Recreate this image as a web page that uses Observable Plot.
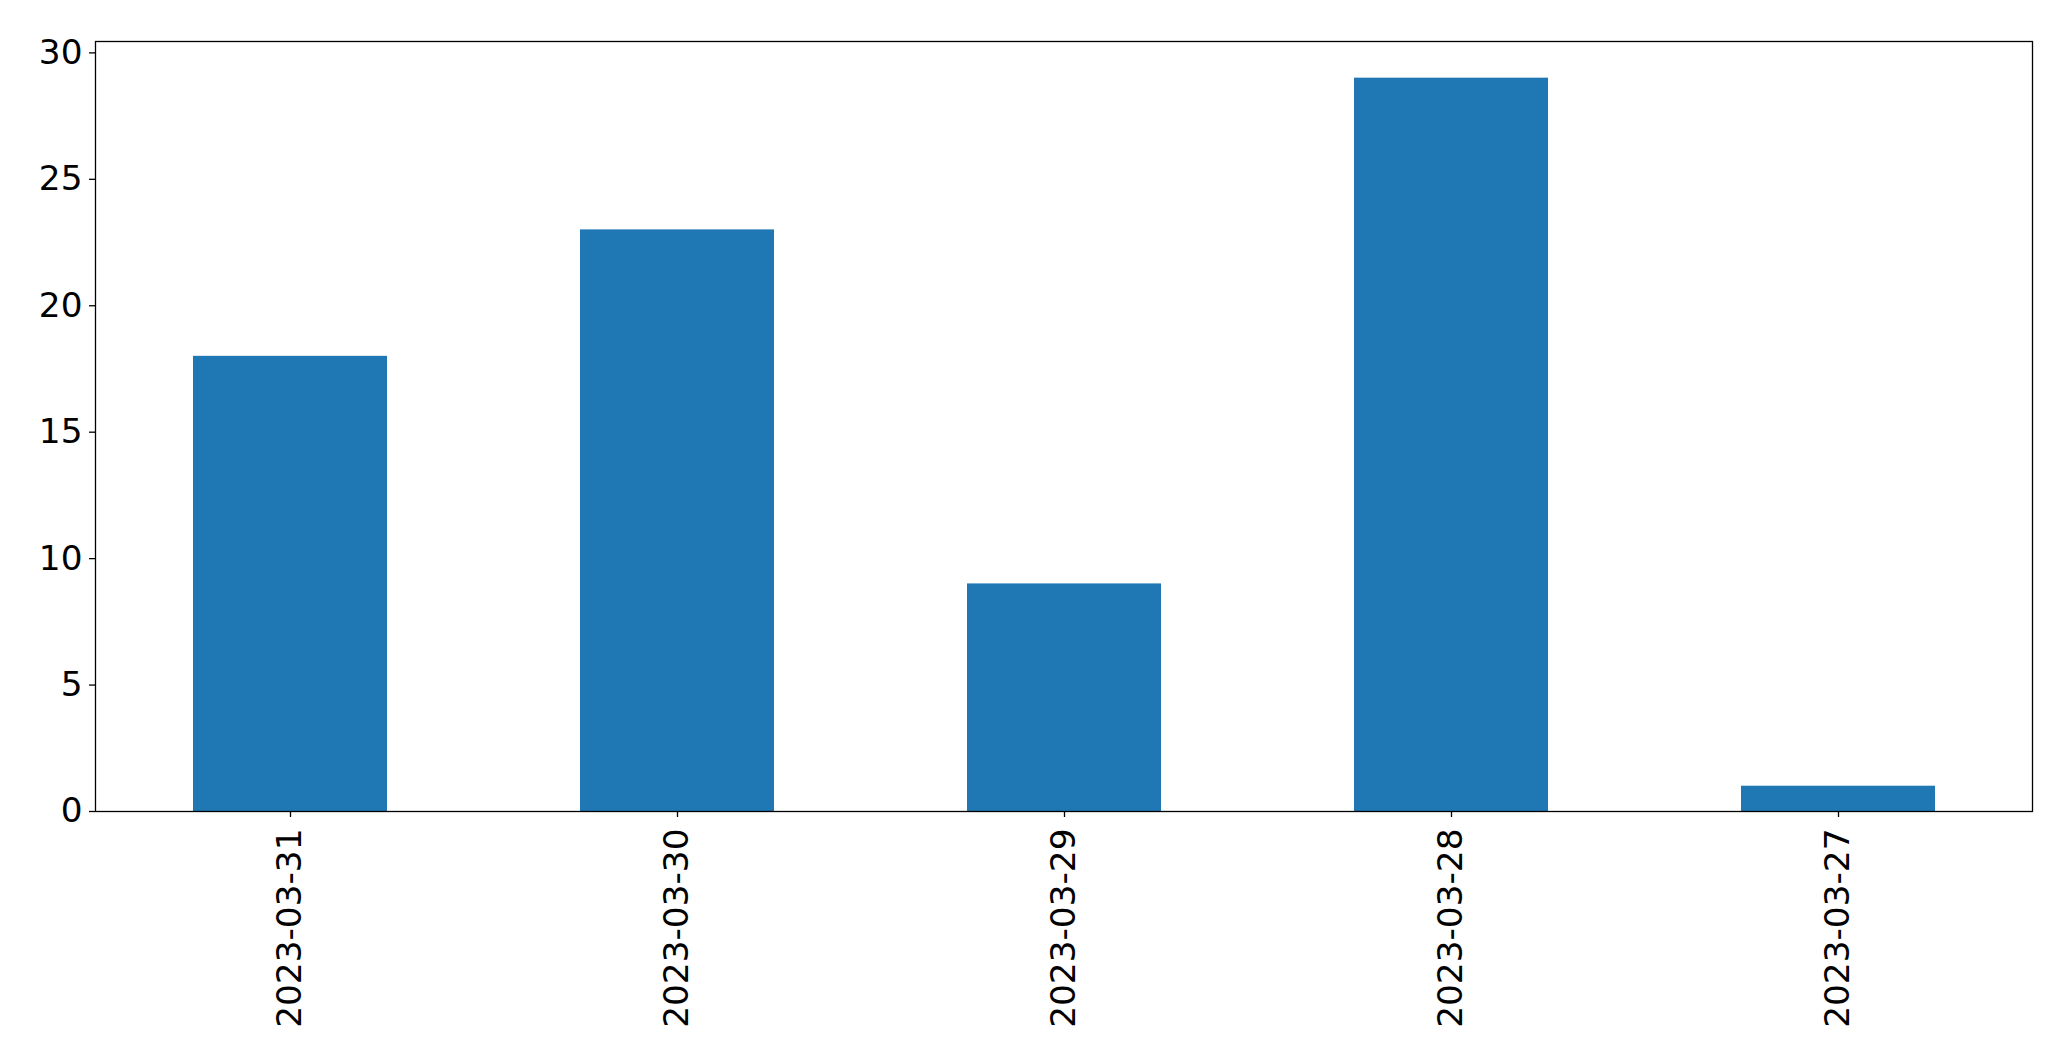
<!DOCTYPE html>
<html><head><meta charset="utf-8">
<script src="https://cdn.jsdelivr.net/npm/d3@7"></script>
<script src="https://cdn.jsdelivr.net/npm/@observablehq/plot@0.6"></script>
<style>body{margin:0;background:#fff}</style>
</head><body><div id="chart"></div>
<script>
const dates = ["2023-03-31","2023-03-30","2023-03-29","2023-03-28","2023-03-27"];
const counts = [18, 23, 9, 29, 1];
const yTicks = [0, 5, 10, 15, 20, 25, 30];
const data = dates.map((d, i) => ({date: d, count: counts[i]}));
const chart = Plot.plot({
  width: 2071, height: 1063,
  marginLeft: 95, marginRight: 39, marginTop: 41, marginBottom: 252,
  style: {fontFamily: "DejaVu Sans", fontSize: "34.3px", background: "#fff", color: "#000", overflow: "visible"},
  x: {domain: dates, paddingInner: 0.5, paddingOuter: 0.25},
  y: {domain: [0, 30.45]},
  marks: [
    Plot.barY(data, {x: "date", y: "count", fill: "#1f77b4"}),
    Plot.frame({stroke: "#000", strokeWidth: 1.3}),
    Plot.axisY({ticks: yTicks, tickSize: 6, tickPadding: 7, label: null, strokeWidth: 1.3}),
    Plot.axisX({tickRotate: -90, tickSize: 6, tickPadding: 11, label: null, strokeWidth: 1.3})
  ]
});
document.getElementById("chart").append(chart);
</script>
</body></html>
